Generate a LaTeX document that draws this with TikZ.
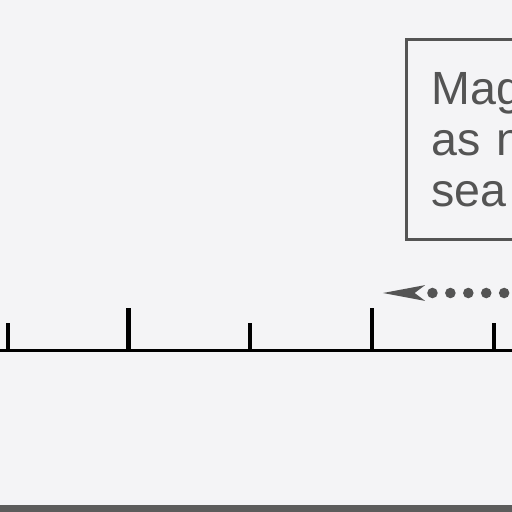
\documentclass[tikz,border=0pt]{standalone}
\usepackage{fontspec}
\setmainfont{Liberation Sans}
\usetikzlibrary{arrows.meta, positioning}
\definecolor{paperbg}{RGB}{244,244,246}
\definecolor{notegray}{RGB}{84,84,84}
\definecolor{bandgray}{RGB}{92,92,92}
\tikzset{
    notebox/.style={rectangle, draw=notegray, line width=1.8pt, anchor=north west,
                    minimum width=6cm, minimum height=4cm, text width=5cm, align=left,
                    inner xsep=0.33cm, text=notegray,
                    font=\fontsize{26.5}{29}\selectfont},
    shorttick/.style={line width=2.1pt, black},
    longtick/.style={line width=2.3pt, black},
    pointer/.style={notegray, line width=6pt, line cap=round,
                    dash pattern=on 0pt off 10.2pt,
                    -{Stealth[length=24pt, width=9pt, inset=6pt, line width=0pt]}}
}
\begin{document}
\begin{tikzpicture}[x=0.02cm, y=-0.02cm]
    % Frame
    \fill[paperbg] (0,0) rectangle (512,512);
    \useasboundingbox (0,0) rectangle (512,512);
    \clip (0,0) rectangle (512,512);

    % Note box (cut at the right edge)
    \node[notebox] (note) at (405,38) {Mag\\as n\\sea};

    % Pointer from off the right edge
    \coordinate (pstart) at (540,293);
    \coordinate (ptip) at (383,293);
    \draw[pointer] (pstart) -- (ptip);

    % Axis
    \coordinate (axl) at (0,350);
    \coordinate (axr) at (512,350);
    \draw[line width=1.7pt, black] (axl) -- (axr);

    % Ticks
    \foreach \tx in {8,250,494}
        \draw[shorttick] (\tx,350) -- (\tx,323);
    \foreach \tx in {128.5,372}
        \draw[longtick] (\tx,350) -- (\tx,308);

    % Bottom band
    \fill[bandgray] (0,505) rectangle (512,512);
\end{tikzpicture}
\end{document}
